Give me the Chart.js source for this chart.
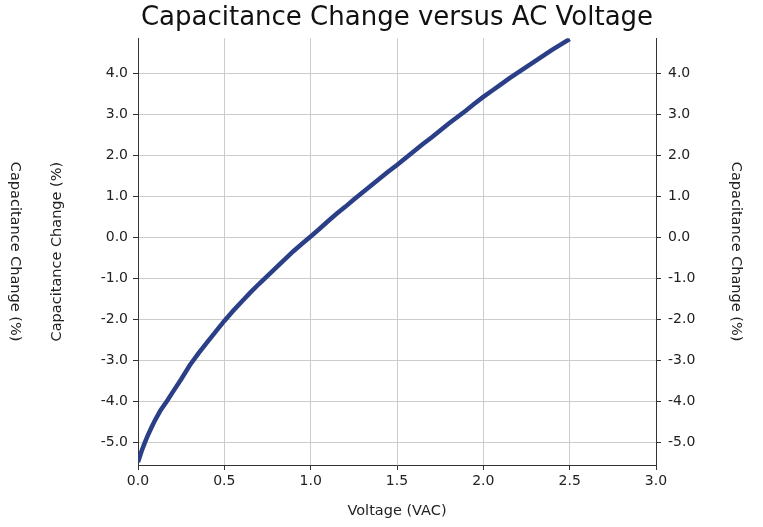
<!DOCTYPE html>
<html>
<head>
<meta charset="utf-8">
<script src="https://cdn.jsdelivr.net/npm/chart.js@4/dist/chart.umd.min.js"></script>
<style>
  html, body { margin: 0; padding: 0; background: #fff; }
  canvas { display: block; }
</style>
</head>
<body>
<canvas id="c" width="763" height="527"></canvas>
<script>
const titleText = "Capacitance Change versus AC Voltage";
const xTitle = "Voltage (VAC)";
const yTitle = "Capacitance Change (%)";

const voltage = [0.00, 0.02, 0.04, 0.06, 0.08, 0.10, 0.13, 0.17, 0.20, 0.25, 0.30, 0.35, 0.40, 0.45,
  0.50, 0.55, 0.60, 0.65, 0.70, 0.75, 0.80, 0.85, 0.90, 0.95, 1.00, 1.05, 1.10, 1.15, 1.20, 1.25,
  1.30, 1.35, 1.40, 1.45, 1.50, 1.55, 1.60, 1.65, 1.70, 1.75, 1.80, 1.85, 1.90, 1.95, 2.00, 2.05,
  2.10, 2.15, 2.20, 2.25, 2.30, 2.35, 2.40, 2.45, 2.50];
const capChange = [-5.48, -5.22, -5.00, -4.80, -4.62, -4.45, -4.22, -3.98, -3.78, -3.46, -3.12, -2.83, -2.56, -2.30,
  -2.04, -1.80, -1.57, -1.35, -1.14, -0.94, -0.74, -0.54, -0.34, -0.16, 0.02, 0.20, 0.39, 0.57, 0.74, 0.92,
  1.09, 1.26, 1.43, 1.60, 1.76, 1.93, 2.10, 2.27, 2.43, 2.60, 2.77, 2.93, 3.09, 3.26, 3.42, 3.57,
  3.72, 3.87, 4.01, 4.15, 4.29, 4.43, 4.57, 4.70, 4.83];

const xTicks = [0.0, 0.5, 1.0, 1.5, 2.0, 2.5, 3.0];
const yTicks = [-5, -4, -3, -2, -1, 0, 1, 2, 3, 4];

const FONT = "'DejaVu Sans', sans-serif";
const TEXT = '#222';
const GRID = '#cccccc';
const AXIS = '#333';
const TICK_SIZE = 14;
const AXIS_TITLE_SIZE = 14.5;

const farLeftTitle = {
  id: 'farLeftTitle',
  afterDraw(chart) {
    const ctx = chart.ctx;
    const ca = chart.chartArea;
    ctx.save();
    ctx.translate(15, (ca.top + ca.bottom) / 2);
    ctx.rotate(Math.PI / 2);
    ctx.font = AXIS_TITLE_SIZE + "px " + FONT;
    ctx.fillStyle = TEXT;
    ctx.textAlign = 'center';
    ctx.textBaseline = 'middle';
    ctx.fillText(yTitle, 0, 0);
    ctx.restore();
  }
};

const pts = voltage.map((v, i) => ({ x: v, y: capChange[i] }));

new Chart(document.getElementById('c'), {
  type: 'line',
  data: {
    datasets: [{
      data: pts,
      borderColor: 'rgb(42,63,135)',
      borderWidth: 4.5,
      pointRadius: 0,
      tension: 0,
      fill: false,
      yAxisID: 'y'
    }]
  },
  options: {
    responsive: false,
    animation: false,
    layout: { padding: { left: 45, right: 15, top: 0, bottom: 3 } },
    plugins: {
      legend: { display: false },
      tooltip: { enabled: false },
      title: {
        display: true,
        text: titleText,
        fullSize: false,
        color: '#111',
        font: { family: FONT, size: 26, weight: 'normal' },
        padding: { top: 3, bottom: 4 }
      }
    },
    scales: {
      x: {
        type: 'linear',
        min: 0, max: 3,
        afterBuildTicks(s) { s.ticks = xTicks.map(v => ({ value: v })); },
        afterFit(s) { s.height = 59; },
        ticks: {
          color: TEXT,
          font: { family: FONT, size: TICK_SIZE },
          padding: 3,
          maxRotation: 0,
          callback: v => Number(v).toFixed(1)
        },
        grid: { color: GRID, tickColor: AXIS, tickLength: 5 },
        border: { color: AXIS, width: 1 },
        title: { display: true, text: xTitle, color: TEXT, font: { family: FONT, size: AXIS_TITLE_SIZE } }
      },
      y: {
        type: 'linear',
        position: 'left',
        min: -5.55, max: 4.85,
        afterBuildTicks(s) { s.ticks = yTicks.map(v => ({ value: v })); },
        afterFit(s) { s.width = 93; },
        ticks: {
          color: TEXT,
          font: { family: FONT, size: TICK_SIZE },
          padding: 5,
          callback: v => Number(v).toFixed(1)
        },
        grid: { color: GRID, tickColor: AXIS, tickLength: 5 },
        border: { color: AXIS, width: 1 },
        title: { display: true, text: yTitle, color: TEXT, font: { family: FONT, size: AXIS_TITLE_SIZE } }
      },
      y2: {
        type: 'linear',
        position: 'right',
        min: -5.55, max: 4.85,
        afterBuildTicks(s) { s.ticks = yTicks.map(v => ({ value: v })); },
        afterFit(s) { s.width = 92; },
        ticks: {
          color: TEXT,
          font: { family: FONT, size: TICK_SIZE },
          padding: 7,
          callback: v => Number(v).toFixed(1)
        },
        grid: { drawOnChartArea: false, color: GRID, tickColor: AXIS, tickLength: 5 },
        border: { color: AXIS, width: 1 },
        title: { display: true, text: yTitle, color: TEXT, font: { family: FONT, size: AXIS_TITLE_SIZE } }
      }
    }
  },
  plugins: [farLeftTitle]
});
</script>
</body>
</html>
